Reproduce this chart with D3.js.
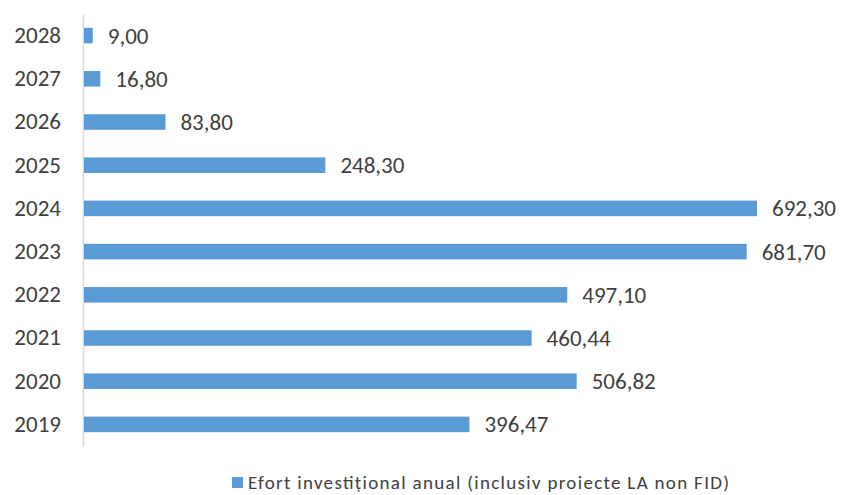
<!DOCTYPE html>
<html>
<head>
<meta charset="utf-8">
<script src="https://cdn.jsdelivr.net/npm/d3@7"></script>
<style>
  html, body { margin: 0; padding: 0; background: #fff; }
  svg { display: block; font-family: Carlito, Calibri, Lato, "Noto Sans", sans-serif; }
</style>
</head>
<body>
<svg id="chart" width="842" height="495"></svg>
<script>
// Annual investment effort, by year
const years = ["2028", "2027", "2026", "2025", "2024", "2023", "2022", "2021", "2020", "2019"];
const values = [9.00, 16.80, 83.80, 248.30, 692.30, 681.70, 497.10, 460.44, 506.82, 396.47];
const seriesName = "Efort investițional anual (inclusiv proiecte LA non FID)";

const svg = d3.select("#chart");
const textColor = "#404040";
const barColor = "#5b9bd5";

const margin = { left: 83, top: 14, bottom: 446 };

const x = d3.scaleLinear().domain([0, 692.3]).range([margin.left + 1, 757]);
const y = d3.scaleBand().domain(years).range([margin.top, margin.bottom]).paddingInner(0.64).paddingOuter(0.32);

const fmt = v => d3.format(".2f")(v).replace(".", ",");

// Category axis
const yAxis = d3.axisLeft(y).tickSize(0).tickPadding(22);
const gy = svg.append("g").attr("transform", `translate(${margin.left},0)`).call(yAxis);
gy.select(".domain").attr("stroke", "#d9d9d9").attr("stroke-width", 1.5);
gy.selectAll("text").attr("fill", textColor).attr("font-size", 23)
  .attr("font-family", "Carlito, Calibri, Lato, sans-serif");

// Bars
const data = years.map((yr, i) => ({ year: yr, value: values[i] }));
svg.append("g").selectAll("rect").data(data).join("rect")
  .attr("x", x(0))
  .attr("y", d => y(d.year))
  .attr("width", d => x(d.value) - x(0))
  .attr("height", y.bandwidth())
  .attr("fill", barColor);

// Value labels
svg.append("g").selectAll("text").data(data).join("text")
  .attr("x", d => x(d.value) + 15)
  .attr("y", d => y(d.year) + y.bandwidth() / 2)
  .attr("dy", "0.35em")
  .attr("fill", textColor)
  .attr("font-size", 23)
  .text(d => fmt(d.value));

// Legend
const lg = svg.append("g").attr("transform", "translate(232,477)");
lg.append("rect").attr("width", 11).attr("height", 11).attr("fill", barColor);
lg.append("text").attr("x", 16).attr("y", 5.5).attr("dy", "0.35em")
  .attr("fill", textColor).attr("font-size", 19)
  .attr("textLength", 481).attr("lengthAdjust", "spacing")
  .text(seriesName);
</script>
</body>
</html>
